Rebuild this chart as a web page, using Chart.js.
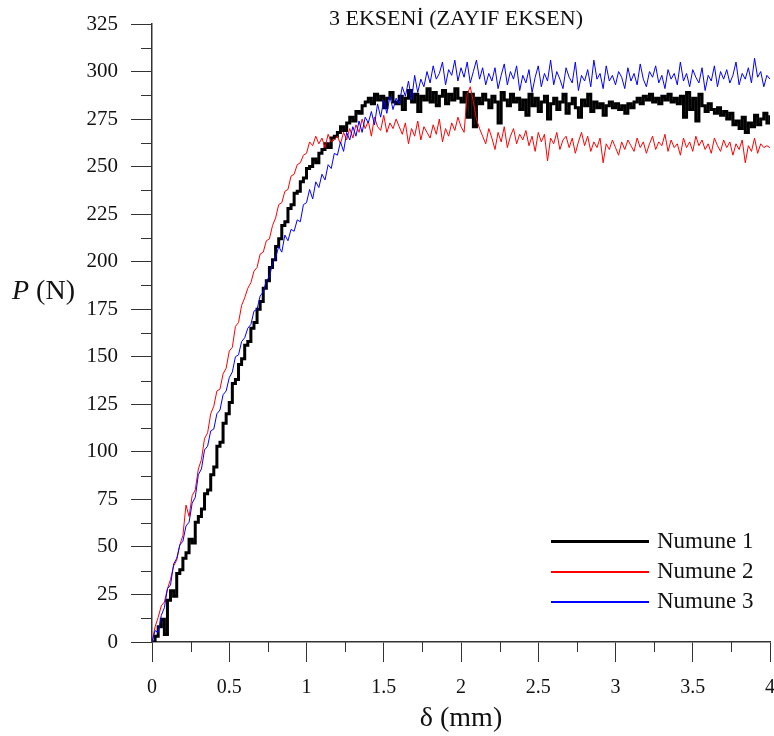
<!DOCTYPE html>
<html>
<head>
<meta charset="utf-8">
<script src="https://cdn.jsdelivr.net/npm/chart.js@4.4.1/dist/chart.umd.min.js"></script>
<style>
  body { margin: 0; background: #fff; }
  #wrap { position: relative; width: 774px; height: 736px; font-family: "Liberation Serif", "Times New Roman", serif; color: #111; overflow: hidden; }
  #baslik { position: absolute; left: 456px; top: 5px; transform: translateX(-50%); font-size: 22px; line-height: 25px; white-space: nowrap; }
  #ybaslik { position: absolute; left: 12px; top: 274px; font-size: 28px; line-height: 32px; white-space: nowrap; }
  #legend { position: absolute; left: 551px; top: 526px; font-size: 23px; line-height: 30px; }
  #legend div { position: relative; height: 30px; padding-left: 106px; white-space: nowrap; }
  #legend i { position: absolute; left: 0; width: 98px; }
</style>
</head>
<body>
<div id="wrap">
  <canvas id="grafik" width="774" height="736"></canvas>
  <div id="baslik">3 EKSENİ (ZAYIF EKSEN)</div>
  <div id="ybaslik"><i>P</i> (N)</div>
  <div id="legend">
    <div><i style="top:14px;height:3px;background:#000"></i>Numune 1</div>
    <div><i style="top:15px;height:1.5px;background:#ff0000"></i>Numune 2</div>
    <div><i style="top:15px;height:1.5px;background:#0000ff"></i>Numune 3</div>
  </div>
</div>
<script>
// deplasman adimi (mm) - her seri 0..4 mm arasi 0.02 mm aralikla okundu
const deltaStep = 0.02;

const numune1 = [
  0, 3, 8, 12, 4, 22, 27, 24, 36, 38,
  44, 47, 54, 52, 63, 66, 70, 78, 80, 88,
  92, 103, 105, 115, 120, 126, 136, 138, 146, 149,
  156, 158, 165, 168, 175, 179, 186, 190, 197, 201,
  208, 212, 219, 221, 228, 230, 236, 237, 242, 244,
  249, 250, 254, 252, 257, 259, 262, 260, 265, 266,
  268, 271, 269, 273, 276, 274, 279, 278, 282, 284,
  286, 283, 288, 285, 287, 281, 286, 289, 284, 283,
  287, 280, 286, 290, 284, 288, 279, 287, 285, 291,
  284, 289, 282, 287, 290, 283, 288, 285, 291, 286,
  284, 289, 276, 288, 271, 286, 283, 288, 285, 281,
  287, 284, 273, 289, 285, 282, 288, 284, 286, 280,
  285, 277, 288, 282, 286, 279, 284, 287, 275, 283,
  286, 280, 284, 288, 278, 283, 286, 281, 276, 285,
  282, 288, 279, 284, 281, 283, 277, 282, 284, 281,
  283, 280, 282, 278, 283, 281, 284, 286, 283, 287,
  285, 288, 284, 286, 283, 287, 285, 288, 284, 286,
  283, 287, 276, 289, 280, 286, 274, 288, 282, 279,
  283, 280, 278, 281, 277, 279, 275, 278, 272, 274,
  270, 276, 268, 273, 271, 277, 272, 275, 278, 273,
  277
];

const numune2 = [
  0, 8, 13, 19, 21, 28, 33, 40, 43, 51,
  56, 72, 66, 77, 80, 91, 96, 107, 110, 120,
  124, 132, 133, 141, 144, 153, 155, 166, 168, 177,
  181, 186, 189, 195, 197, 204, 205, 211, 212, 219,
  223, 230, 231, 237, 238, 245, 246, 251, 252, 256,
  257, 263, 261, 266, 262, 265, 260, 267, 263, 264,
  266, 262, 268, 264, 270, 265, 272, 268, 275, 270,
  274, 266, 276, 271, 269, 277, 268, 273, 270, 275,
  271, 267, 273, 262, 270, 266, 274, 264, 271, 268,
  265, 272, 267, 275, 263, 270, 266, 273, 269, 276,
  271, 268, 288, 292, 284, 275, 270, 266, 262, 270,
  265, 259, 268, 263, 271, 260, 266, 270, 262, 267,
  264, 269, 261, 266, 258, 268, 263, 267, 253, 265,
  262, 268, 259, 264, 266, 260, 265, 257, 263, 268,
  261, 266, 258, 263, 260, 265, 252, 262, 259, 264,
  260, 256, 263, 259, 264, 261, 258, 265, 260, 263,
  257, 262, 266, 259, 263, 261, 267, 258, 264, 260,
  262, 256, 265, 260, 263, 258, 266, 261, 264, 259,
  262, 257, 265, 261, 258, 264, 260, 263, 256, 262,
  259, 264, 252, 261, 258, 265, 257, 262, 260, 261,
  260
];

const numune3 = [
  0, 6, 5, 14, 18, 28, 30, 41, 44, 51,
  53, 61, 63, 73, 76, 88, 91, 101, 103, 111,
  112, 120, 122, 130, 132, 139, 142, 150, 151, 158,
  160, 165, 167, 174, 175, 182, 184, 190, 192, 199,
  202, 208, 205, 214, 211, 217, 216, 222, 221, 230,
  231, 238, 233, 242, 239, 246, 243, 251, 249, 257,
  256, 263, 258, 268, 264, 271, 266, 274, 268, 276,
  273, 279, 272, 283, 276, 285, 278, 287, 280, 286,
  283, 292, 287, 295, 285, 298, 289, 296, 292, 300,
  294, 303, 296, 299, 305, 293, 301, 298, 306, 295,
  302, 297, 305, 294, 300, 306, 296, 302, 293, 299,
  295, 302, 291, 298, 304, 293, 300, 296, 303, 290,
  298, 294, 301, 289, 297, 303, 292, 299, 295, 306,
  293, 300, 296, 291, 302, 297, 294, 305, 290, 298,
  295, 301, 292, 306, 296, 299, 291, 303, 295, 298,
  293, 300, 297, 291, 302, 295, 299, 293, 304, 296,
  292, 300, 297, 303, 294, 298, 291, 301, 296, 299,
  293, 305, 295, 299, 292, 301, 297, 294, 302, 290,
  298, 295, 303, 292, 300, 296, 301, 294, 298, 305,
  293, 299, 296, 302, 294, 307, 297, 300, 292, 298,
  296
];

const axisColor = '#333';

function toPoints(arr) {
  return arr.map((v, i) => ({ x: +(i * deltaStep).toFixed(2), y: v }));
}

// ara (kucuk) tikler
const minorTicks = {
  id: 'minorTicks',
  afterDraw(chart) {
    const { ctx, scales: { x, y } } = chart;
    ctx.save();
    ctx.strokeStyle = axisColor;
    ctx.lineWidth = 1;
    ctx.beginPath();
    for (let v = 12.5; v < 325; v += 25) {
      const py = Math.round(y.getPixelForValue(v)) + 0.5;
      ctx.moveTo(y.right - 11, py);
      ctx.lineTo(y.right, py);
    }
    for (let v = 0.25; v < 4; v += 0.5) {
      const px = Math.round(x.getPixelForValue(v)) + 0.5;
      ctx.moveTo(px, x.top);
      ctx.lineTo(px, x.top + 10);
    }
    ctx.stroke();
    ctx.restore();
  }
};

new Chart(document.getElementById('grafik'), {
  type: 'line',
  data: {
    datasets: [{
      label: 'Numune 1',
      data: toPoints(numune1),
      borderColor: '#000',
      borderWidth: 3,
      stepped: true,
      order: 3
    }, {
      label: 'Numune 2',
      data: toPoints(numune2),
      borderColor: '#ff0000',
      borderWidth: 1,
      order: 2
    }, {
      label: 'Numune 3',
      data: toPoints(numune3),
      borderColor: '#0000ff',
      borderWidth: 1,
      order: 1
    }]
  },
  options: {
    responsive: false,
    animation: false,
    devicePixelRatio: 1,
    elements: { point: { radius: 0 }, line: { tension: 0 } },
    layout: { padding: { top: 24, right: 4, left: 0, bottom: 0 } },
    plugins: {
      legend: { display: false },
      tooltip: { enabled: false }
    },
    scales: {
      x: {
        type: 'linear',
        min: 0,
        max: 4,
        afterFit: s => { s.height = 94; s.paddingLeft = 0; s.paddingRight = 0; },
        ticks: {
          stepSize: 0.5,
          padding: 14,
          color: '#111',
          font: { family: 'Liberation Serif', size: 20 },
          callback: v => v
        },
        grid: { drawOnChartArea: false, tickLength: 20, color: axisColor },
        border: { color: axisColor, width: 1.5 },
        title: {
          display: true,
          text: 'δ (mm)',
          color: '#111',
          font: { family: 'Liberation Serif', size: 28 },
          padding: { top: 0, bottom: 1 }
        }
      },
      y: {
        min: 0,
        max: 325,
        afterFit: s => { s.width = 152; s.paddingTop = 0; s.paddingBottom = 0; },
        ticks: {
          stepSize: 25,
          padding: 13,
          color: '#111',
          font: { family: 'Liberation Serif', size: 21 }
        },
        grid: { drawOnChartArea: false, tickLength: 21, color: axisColor },
        border: { color: axisColor, width: 1.5 }
      }
    }
  },
  plugins: [minorTicks]
});
</script>
</body>
</html>
